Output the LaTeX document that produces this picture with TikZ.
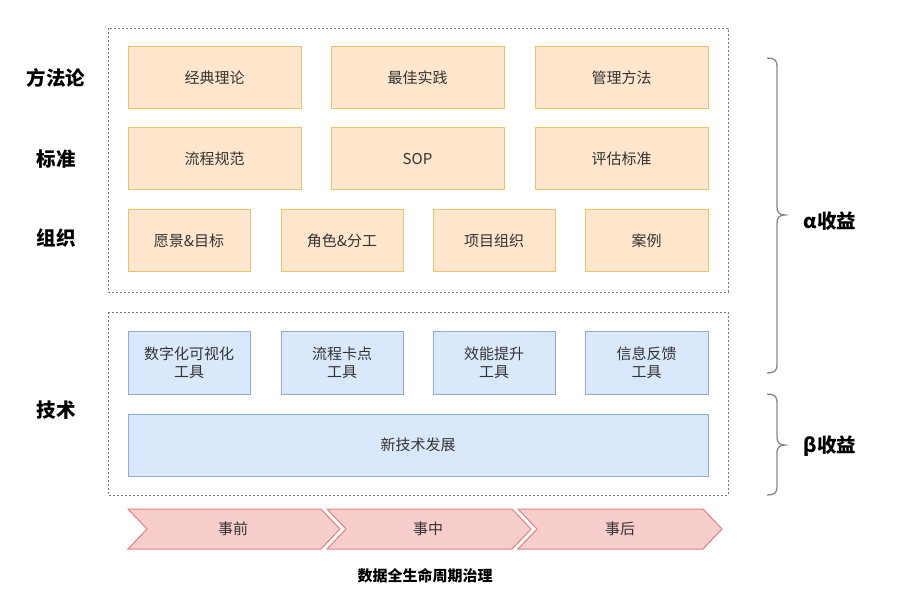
\documentclass[tikz,border=0pt]{standalone}
\usepackage{fontspec}
\setmainfont{Noto Sans CJK SC}
\usetikzlibrary{positioning}
\definecolor{ofill}{HTML}{FFE6CC}
\definecolor{odraw}{HTML}{E9C46E}
\definecolor{bfill}{HTML}{DAE8FC}
\definecolor{bdraw}{HTML}{8FAADC}
\definecolor{rfill}{HTML}{F8CECC}
\definecolor{rdraw}{HTML}{E08080}
\definecolor{txt}{HTML}{333333}
\definecolor{frame}{HTML}{777777}
\definecolor{brc}{HTML}{888888}
\tikzset{
  obox/.style={draw=odraw,fill=ofill,line width=1pt,inner sep=0pt,text=txt,font=\fontsize{15}{18}\selectfont,align=center},
  bbox/.style={draw=bdraw,fill=bfill,line width=1pt,inner sep=0pt,text=txt,font=\fontsize{15}{18}\selectfont,align=center},
  frm/.style={draw=frame,line width=0.9pt,dash pattern=on 2pt off 2pt},
  lab/.style={font=\fontsize{19.5}{22}\selectfont\bfseries,text=black},
  brace/.style={draw=brc,line width=1.3pt},
  chev/.style={draw=rdraw,fill=rfill,line width=1pt},
  ctext/.style={text=txt,font=\fontsize{15}{18}\selectfont}
}
\begin{document}
\begin{tikzpicture}[x=1pt,y=-1pt]
\useasboundingbox (0,0) rectangle (923,601);
% frames
\draw[frm] (108,28) rectangle (728,292);
\draw[frm] (108,312) rectangle (728,495);
% orange row 1
\node[obox,minimum width=173pt,minimum height=62pt] (a1) at (214.5,78) {经典理论};
\node[obox,minimum width=173pt,minimum height=62pt] (a2) at (417.5,78) {最佳实践};
\node[obox,minimum width=173pt,minimum height=62pt] (a3) at (621.5,78) {管理方法};
% row 2
\node[obox,minimum width=173pt,minimum height=62pt] (b1) at (214.5,159) {流程规范};
\node[obox,minimum width=173pt,minimum height=62pt] (b2) at (417.5,159) {SOP};
\node[obox,minimum width=173pt,minimum height=62pt] (b3) at (621.5,159) {评估标准};
% row 3
\node[obox,minimum width=122pt,minimum height=62pt] (c1) at (189,241) {愿景\&目标};
\node[obox,minimum width=122pt,minimum height=62pt] (c2) at (342,241) {角色\&分工};
\node[obox,minimum width=122pt,minimum height=62pt] (c3) at (494,241) {项目组织};
\node[obox,minimum width=123pt,minimum height=62pt] (c4) at (646.5,241) {案例};
% blue row
\node[bbox,minimum width=122pt,minimum height=62pt] (d1) at (189,363) {数字化可视化\\工具};
\node[bbox,minimum width=122pt,minimum height=62pt] (d2) at (342,363) {流程卡点\\工具};
\node[bbox,minimum width=122pt,minimum height=62pt] (d3) at (494,363) {效能提升\\工具};
\node[bbox,minimum width=123pt,minimum height=62pt] (d4) at (646.5,363) {信息反馈\\工具};
\node[bbox,minimum width=580pt,minimum height=62pt] (e1) at (418,445) {新技术发展};
% left labels
\node[lab] (l1) at (56,78) {方法论};
\node[lab] (l2) at (56,159) {标准};
\node[lab] (l3) at (56,238) {组织};
\node[lab] (l4) at (56,410) {技术};
% chevrons
\draw[chev] (128,509) -- (321,509) -- (340,529) -- (321,549) -- (128,549) -- (147,529) -- cycle;
\draw[chev] (327,509) -- (512,509) -- (531,529) -- (512,549) -- (327,549) -- (346,529) -- cycle;
\draw[chev] (518,509) -- (703,509) -- (722,529) -- (703,549) -- (518,549) -- (537,529) -- cycle;
\node[ctext] (t1) at (233,529) {事前};
\node[ctext] (t2) at (428,529) {事中};
\node[ctext] (t3) at (620,529) {事后};
\node[font=\fontsize{15}{18}\selectfont\bfseries,text=black] (title) at (425,576) {数据全生命周期治理};
% braces
\draw[brace] (767,58) .. controls (774,58) and (777,60) .. (777,66) -- (777,207) .. controls (777,212) and (779,215) .. (785,215) .. controls (779,215) and (777,218) .. (777,223) -- (777,365) .. controls (777,371) and (774,373) .. (767,373);
\draw[brace] (767,394) .. controls (774,394) and (777,396) .. (777,402) -- (777,437) .. controls (777,442) and (779,445) .. (785,445) .. controls (779,445) and (777,448) .. (777,453) -- (777,487) .. controls (777,493) and (774,495) .. (767,495);
\node[lab] (alpha) at (830,221) {α收益};
\node[lab] (beta) at (830,446) {β收益};
\end{tikzpicture}
\end{document}
